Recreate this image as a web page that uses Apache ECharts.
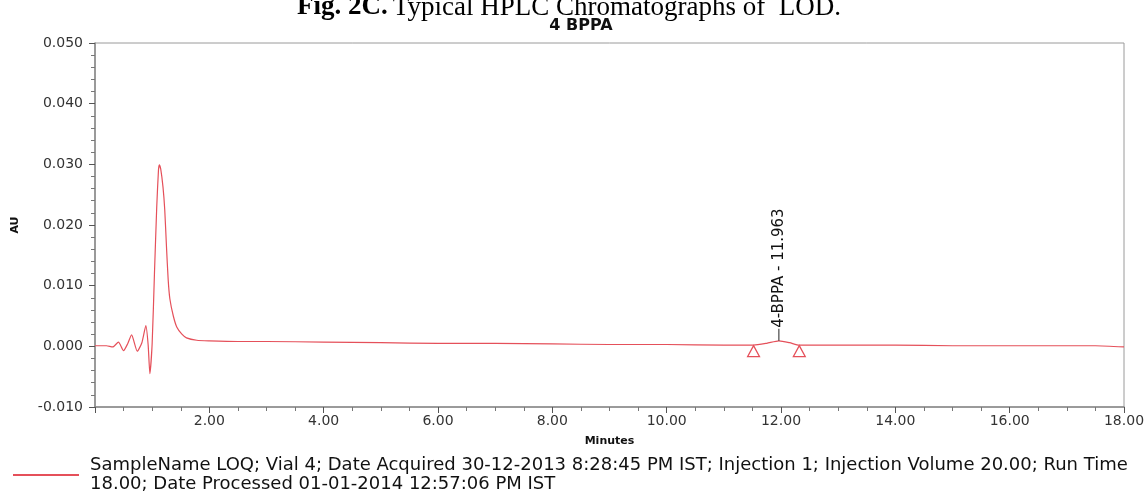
<!DOCTYPE html>
<html>
<head>
<meta charset="utf-8">
<script src="https://cdn.jsdelivr.net/npm/echarts@6/dist/echarts.min.js"></script>
<style>html,body{margin:0;padding:0;background:#fff}#c{width:1148px;height:492px}</style>
</head>
<body>
<div id="c"></div>
<script>
// Retention time (min) and absorbance (AU)
var times = [0, 0.2, 0.31, 0.41, 0.5, 0.57, 0.64, 0.74, 0.82, 0.89, 0.93, 0.96, 1.0, 1.04, 1.08, 1.11, 1.125, 1.15, 1.19, 1.22, 1.25, 1.28, 1.31, 1.37, 1.43, 1.52, 1.6, 1.78, 2.0, 2.5, 3.0, 4.0, 5.0, 6.0, 7.0, 8.0, 9.0, 10.0, 11.0, 11.52, 11.75, 11.963, 12.15, 12.32, 13.0, 14.0, 15.0, 16.0, 17.0, 17.5, 18.0];
var au = [0.0001, 0.0001, -0.0001, 0.0007, -0.0007, 0.0004, 0.0019, -0.0008, 0.0006, 0.0034, 0.0002, -0.0045, 0.0005, 0.0120, 0.0230, 0.0290, 0.0299, 0.0292, 0.0262, 0.0225, 0.0165, 0.0110, 0.0078, 0.0050, 0.0032, 0.0020, 0.0014, 0.0010, 0.0009, 0.0008, 0.0008, 0.0007, 0.0006, 0.0005, 0.0005, 0.0004, 0.0003, 0.0003, 0.0002, 0.0002, 0.0005, 0.0009, 0.0006, 0.0002, 0.0002, 0.0002, 0.0001, 0.0001, 0.0001, 0.0001, -0.0001];
var peakName = '4-BPPA - 11.963';
var peakTime = 11.963, peakAU = 0.0009;
var peakStart = [11.52, 0.0002], peakEnd = [12.32, 0.0002];
var xTicks = {min: 0, max: 18, interval: 2};
var yTicks = {min: -0.01, max: 0.05, interval: 0.01};
var seriesName = 'SampleName LOQ; Vial 4; Date Acquired 30-12-2013 8:28:45 PM IST; Injection 1; Injection Volume 20.00; Run Time\n18.00; Date Processed 01-01-2014 12:57:06 PM IST';

var red = '#e5505a';
var data = times.map(function (t, i) { return [t, au[i]]; });
var chart = echarts.init(document.getElementById('c'));
chart.setOption({
  animation: false,
  title: [{
    text: '{b|Fig. 2C.} {n|Typical HPLC Chromatographs of  LOD.}',
    left: 564, top: -11, textAlign: 'center',
    textStyle: {fontWeight: 'normal', rich: {
      b: {fontFamily: 'Liberation Serif', fontSize: 27, fontWeight: 'bold', color: '#000'},
      n: {fontFamily: 'Liberation Serif', fontSize: 27, fontWeight: 'normal', color: '#000'}
    }}
  }, {
    text: '4 BPPA', left: 576, top: 13, textAlign: 'center',
    textStyle: {fontFamily: 'DejaVu Sans', fontSize: 16, fontWeight: 'bold', color: '#111'}
  }],
  legend: {
    left: 8, top: 451, icon: 'rect', itemWidth: 66, itemHeight: 2,
    textStyle: {fontFamily: 'DejaVu Sans', fontSize: 18, lineHeight: 19, color: '#111', padding: [0, 0, 0, 6]},
    data: [seriesName]
  },
  grid: {left: 95, right: 24, top: 43, bottom: 85, show: true, borderColor: '#9a9a9a', borderWidth: 1},
  xAxis: {
    type: 'value', min: xTicks.min, max: xTicks.max, interval: xTicks.interval,
    name: 'Minutes', nameLocation: 'middle', nameGap: 29,
    nameTextStyle: {fontFamily: 'DejaVu Sans', fontSize: 11, fontWeight: 'bold', color: '#111'},
    axisLine: {onZero: false, lineStyle: {color: '#8a8a8a', width: 1.5}},
    axisTick: {length: 6, lineStyle: {color: '#555'}},
    minorTick: {show: true, splitNumber: 4, length: 4, lineStyle: {color: '#777'}},
    splitLine: {show: false},
    axisLabel: {fontFamily: 'DejaVu Sans', fontSize: 14, color: '#333', margin: 7,
      formatter: function (v) { return v === 0 ? '' : v.toFixed(2); }}
  },
  yAxis: {
    type: 'value', min: yTicks.min, max: yTicks.max, interval: yTicks.interval,
    name: 'AU', nameLocation: 'middle', nameGap: 74, nameRotate: 90,
    nameTextStyle: {fontFamily: 'DejaVu Sans', fontSize: 11, fontWeight: 'bold', color: '#111'},
    axisLine: {lineStyle: {color: '#8a8a8a', width: 1.5}},
    axisTick: {length: 6, lineStyle: {color: '#555'}},
    minorTick: {show: true, splitNumber: 5, length: 4, lineStyle: {color: '#777'}},
    splitLine: {show: false},
    axisLabel: {fontFamily: 'DejaVu Sans', fontSize: 14, color: '#333', margin: 12,
      formatter: function (v) { return v.toFixed(3); }}
  },
  series: [{
    name: seriesName, type: 'line', data: data, showSymbol: false, smooth: 0.2,
    lineStyle: {color: red, width: 1.2}, itemStyle: {color: red},
    markPoint: {
      silent: true,
      data: [
        {coord: peakStart, symbol: 'triangle', symbolSize: [12, 11], symbolOffset: [0, 6],
          itemStyle: {color: '#fff', borderColor: red, borderWidth: 1.2}, label: {show: false}},
        {coord: peakEnd, symbol: 'triangle', symbolSize: [12, 11], symbolOffset: [0, 6],
          itemStyle: {color: '#fff', borderColor: red, borderWidth: 1.2}, label: {show: false}},
        {coord: [peakTime, peakAU], symbol: 'rect', symbolSize: [1, 12], symbolOffset: [0, -6],
          itemStyle: {color: '#222'},
          label: {show: true, formatter: peakName, position: 'top', distance: 1, rotate: 90,
            align: 'left', verticalAlign: 'middle',
            fontFamily: 'DejaVu Sans', fontSize: 15, color: '#111'}}
      ]
    }
  }]
});
</script>
</body>
</html>
